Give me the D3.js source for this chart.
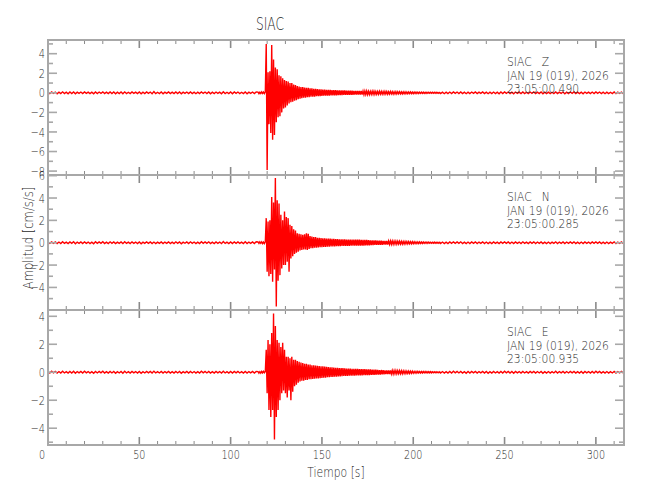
<!DOCTYPE html>
<html><head><meta charset="utf-8">
<script src="https://cdn.jsdelivr.net/npm/d3@7"></script>
<style>
body{margin:0;background:#fff}
svg{display:block}
text{font-family:"DejaVu Sans",sans-serif;font-weight:300;fill:#2a2a2a}
</style>
</head><body>
<svg id="chart" width="650" height="500"></svg>
<script>
// ---------------- data ----------------
const chartTitle = "SIAC";
const stationName = "SIAC";
const components = ["Z", "N", "E"];
const dateText = "JAN 19 (019), 2026";
const startTimes = ["23:05:00.490", "23:05:00.285", "23:05:00.935"];
const xTickLabels = [0, 50, 100, 150, 200, 250, 300];
const timeMax = 315.4;
const yDomainZ = [-8.4, 5.4];
const yDomainN = [-6.02, 6.06];
const yDomainE = [-5.2, 4.45];
const yLabelsZ = [-8, -6, -4, -2, 0, 2, 4];
const yLabelsN = [-4, -2, 0, 2, 4, 6];
const yLabelsE = [-4, -2, 0, 2, 4];
const yAxisTitle = "Amplitud [cm/s/s]";
const xAxisTitle = "Tiempo [s]";

// sampling of the read-off trace segments (seconds): [start, step]
const preSeg = [0, 1];       // 0 .. 114 s
const eventSeg = [115, 0.5]; // 115 .. 174.5 s
const codaSeg = [175, 0.5];  // 175 .. 214.5 s
const postSeg = [215, 1];    // 215 .. 315 s

// Z component (cm/s/s)
const zPre = [
0.08,-0.07,0.09,-0.06,0.08,-0.09,0.07,-0.08,0.1,-0.07,
0.06,-0.09,0.08,-0.07,0.09,-0.1,0.07,-0.06,0.08,-0.08,
0.09,-0.06,0.07,-0.08,0.06,-0.1,0.09,-0.07,0.08,-0.06,
0.1,-0.08,0.06,-0.08,0.09,-0.07,0.08,-0.09,0.06,-0.07,
0.08,-0.09,0.1,-0.07,0.06,-0.08,0.09,-0.06,0.07,-0.08,
0.08,-0.1,0.06,-0.07,0.09,-0.06,0.08,-0.09,0.12,-0.08,
0.06,-0.07,0.08,-0.09,0.07,-0.06,0.09,-0.08,0.06,-0.08,
0.09,-0.07,0.08,-0.1,0.06,-0.06,0.08,-0.08,0.09,-0.07,
0.07,-0.09,0.06,-0.08,0.1,-0.06,0.08,-0.07,0.09,-0.09,
0.06,-0.08,0.08,-0.06,0.07,-0.09,0.11,-0.07,0.06,-0.08,
0.08,-0.09,0.09,-0.06,0.08,-0.07,0.06,-0.08,0.09,-0.09,
0.07,-0.06,0.08,-0.08,0.09];
const zEvent = [
0.07,-0.08,0.06,-0.07,0.09,-0.06,0.08,-0.07,0.1,5.0,
-7.9,2.1,-3.2,2.2,-4.1,4.9,-4.8,3.4,-4.3,2.6,
-3.0,2.4,-2.5,1.8,-2.4,1.7,-2.0,1.5,-1.6,1.3,
-1.5,1.2,-1.3,1.15,-1.1,1.0,-0.95,1.0,-0.9,0.85,
-0.8,0.8,-0.75,0.7,-0.65,0.65,-0.6,0.6,-0.55,0.6,
-0.5,0.55,-0.5,0.5,-0.45,0.5,-0.45,0.45,-0.4,0.45,
-0.4,0.4,-0.38,0.4,-0.35,0.38,-0.35,0.35,-0.33,0.35,
-0.32,0.33,-0.3,0.32,-0.3,0.3,-0.28,0.3,-0.28,0.3,
-0.27,0.28,-0.26,0.27,-0.25,0.28,-0.25,0.26,-0.24,0.25,
-0.24,0.25,-0.23,0.24,-0.22,0.24,-0.22,0.23,-0.21,0.22,
-0.21,0.22,-0.2,0.21,-0.2,0.2,-0.19,0.2,-0.19,0.19,
-0.19,0.19,-0.18,0.19,-0.18,0.18,-0.18,0.18,-0.17,0.18];
const zCoda = [
-0.17,0.16,-0.17,0.15,-0.16,0.16,-0.15,0.16,-0.15,0.14,
-0.15,0.14,-0.14,0.15,-0.13,0.14,-0.14,0.13,-0.13,0.14,
-0.12,0.13,-0.13,0.12,-0.12,0.13,-0.11,0.12,-0.12,0.11,
-0.11,0.12,-0.11,0.11,-0.1,0.11,-0.1,0.1,-0.1,0.1,
-0.09,0.1,-0.09,0.09,-0.09,0.09,-0.08,0.09,-0.08,0.08,
-0.08,0.08,-0.07,0.08,-0.07,0.07,-0.07,0.07,-0.06,0.07,
-0.06,0.06,-0.06,0.06,-0.05,0.06,-0.05,0.05,-0.05,0.05,
-0.05,0.05,-0.04,0.05,-0.04,0.05,-0.04,0.04,-0.04,0.04];
const zPost = [
-0.08,0.07,-0.09,0.06,-0.08,0.08,-0.07,0.09,-0.06,0.08,
-0.07,0.09,-0.08,0.06,-0.09,0.07,-0.08,0.08,-0.06,0.09,
-0.08,0.07,-0.06,0.09,-0.08,0.07,-0.09,0.06,-0.08,0.08,
-0.07,0.06,-0.09,0.08,-0.07,0.09,-0.06,0.08,-0.08,0.07,
-0.09,0.08,-0.06,0.07,-0.08,0.09,-0.07,0.06,-0.08,0.08,
-0.06,0.09,-0.08,0.07,-0.07,0.08,-0.09,0.06,-0.08,0.07,
-0.08,0.06,-0.07,0.09,-0.08,0.07,-0.06,0.08,-0.09,0.07,
-0.07,0.08,-0.06,0.09,-0.08,0.06,-0.08,0.07,-0.09,0.08,
-0.06,0.07,-0.08,0.08,-0.07,0.09,-0.06,0.08,-0.08,0.06,
-0.09,0.07,-0.08,0.06,-0.07,0.09,-0.08,0.07,-0.06,0.08,
-0.08];

// N component
const nPre = [
0.07,-0.06,0.08,-0.05,0.07,-0.08,0.06,-0.07,0.09,-0.06,
0.05,-0.08,0.07,-0.06,0.08,-0.09,0.06,-0.05,0.07,-0.07,
0.08,-0.05,0.06,-0.07,0.05,-0.09,0.08,-0.06,0.07,-0.05,
0.09,-0.07,0.05,-0.07,0.08,-0.06,0.07,-0.08,0.05,-0.06,
0.07,-0.08,0.09,-0.06,0.05,-0.07,0.08,-0.05,0.06,-0.07,
0.07,-0.09,0.05,-0.06,0.08,-0.05,0.07,-0.08,0.06,-0.07,
0.05,-0.06,0.07,-0.08,0.06,-0.05,0.08,-0.07,0.05,-0.07,
0.08,-0.06,0.07,-0.09,0.05,-0.05,0.07,-0.07,0.08,-0.06,
0.06,-0.08,0.05,-0.07,0.09,-0.05,0.07,-0.06,0.08,-0.08,
0.05,-0.07,0.07,-0.05,0.06,-0.08,0.1,-0.06,0.05,-0.07,
0.07,-0.08,0.08,-0.05,0.07,-0.06,0.05,-0.07,0.08,-0.08,
0.06,-0.05,0.07,-0.07,0.08];
const nEvent = [
0.07,-0.06,0.08,-0.05,0.07,-0.08,0.06,-0.07,0.08,2.2,
-2.6,1.9,-3.0,2.0,-2.8,4.1,-3.5,3.6,-2.4,5.8,
-5.7,3.8,-3.4,3.5,-2.9,2.5,-2.3,2.0,-2.0,2.8,
-2.0,2.3,-1.7,2.2,-2.6,1.6,-1.4,1.5,-1.2,1.2,
-1.0,1.1,-0.9,0.85,-0.8,0.8,-0.7,0.75,-0.65,0.7,
-0.6,0.75,-0.6,0.85,-0.65,0.8,-0.55,0.6,-0.5,0.55,
-0.5,0.5,-0.45,0.5,-0.45,0.45,-0.42,0.45,-0.4,0.42,
-0.4,0.4,-0.38,0.4,-0.37,0.38,-0.36,0.37,-0.35,0.36,
-0.34,0.35,-0.33,0.34,-0.32,0.33,-0.31,0.32,-0.3,0.31,
-0.3,0.31,-0.29,0.3,-0.29,0.3,-0.28,0.29,-0.28,0.29,
-0.28,0.28,-0.27,0.28,-0.27,0.28,-0.26,0.27,-0.26,0.27,
-0.26,0.27,-0.25,0.26,-0.25,0.26,-0.25,0.25,-0.24,0.25];
const nCoda = [
-0.24,0.23,-0.23,0.22,-0.22,0.22,-0.21,0.21,-0.2,0.21,
-0.2,0.19,-0.19,0.19,-0.18,0.18,-0.18,0.17,-0.17,0.17,
-0.16,0.17,-0.16,0.15,-0.15,0.16,-0.14,0.15,-0.14,0.14,
-0.13,0.14,-0.13,0.13,-0.12,0.13,-0.12,0.12,-0.12,0.11,
-0.11,0.11,-0.1,0.1,-0.1,0.1,-0.09,0.09,-0.09,0.09,
-0.08,0.08,-0.08,0.07,-0.07,0.07,-0.07,0.07,-0.06,0.06,
-0.06,0.06,-0.06,0.05,-0.05,0.05,-0.05,0.05,-0.05,0.04,
-0.05,0.04,-0.04,0.05,-0.04,0.04,-0.04,0.04,-0.04,0.04];
const nPost = [
-0.07,0.06,-0.08,0.05,-0.07,0.07,-0.06,0.08,-0.05,0.07,
-0.06,0.08,-0.07,0.05,-0.08,0.06,-0.07,0.07,-0.05,0.08,
-0.07,0.06,-0.05,0.08,-0.07,0.06,-0.08,0.05,-0.07,0.07,
-0.06,0.05,-0.08,0.07,-0.06,0.08,-0.05,0.07,-0.07,0.06,
-0.08,0.07,-0.05,0.06,-0.07,0.08,-0.06,0.05,-0.07,0.07,
-0.05,0.08,-0.07,0.06,-0.06,0.07,-0.08,0.05,-0.07,0.06,
-0.07,0.05,-0.06,0.08,-0.07,0.06,-0.05,0.07,-0.08,0.06,
-0.06,0.07,-0.05,0.08,-0.07,0.05,-0.07,0.06,-0.08,0.07,
-0.05,0.06,-0.07,0.07,-0.06,0.08,-0.05,0.07,-0.07,0.05,
-0.08,0.06,-0.07,0.05,-0.06,0.08,-0.07,0.06,-0.05,0.07,
-0.07];

// E component
const ePre = [
0.06,-0.05,0.07,-0.04,0.06,-0.06,0.05,-0.06,0.07,-0.05,
0.04,-0.06,0.06,-0.05,0.07,-0.07,0.05,-0.04,0.06,-0.06,
0.07,-0.04,0.05,-0.06,0.04,-0.07,0.06,-0.05,0.06,-0.04,
0.07,-0.06,0.04,-0.06,0.06,-0.05,0.06,-0.07,0.04,-0.05,
0.06,-0.07,0.07,-0.05,0.04,-0.06,0.06,-0.04,0.05,-0.06,
0.06,-0.07,0.04,-0.05,0.06,-0.04,0.06,-0.06,0.08,-0.05,
0.04,-0.05,0.06,-0.06,0.05,-0.04,0.06,-0.06,0.04,-0.06,
0.06,-0.05,0.06,-0.07,0.04,-0.04,0.06,-0.06,0.06,-0.05,
0.05,-0.06,0.04,-0.06,0.07,-0.04,0.06,-0.05,0.06,-0.06,
0.04,-0.06,0.06,-0.04,0.05,-0.06,0.07,-0.05,0.04,-0.06,
0.06,-0.06,0.06,-0.04,0.06,-0.05,0.04,-0.06,0.06,-0.06,
0.05,-0.04,0.06,-0.06,0.06];
const eEvent = [
0.05,-0.06,0.04,-0.06,0.06,-0.05,0.06,-0.04,0.06,1.6,
-1.5,2.3,-2.7,2.0,-3.2,2.8,-2.7,4.2,-4.8,3.3,
-3.2,2.3,-2.7,2.1,-2.0,1.8,-1.5,2.1,-1.3,1.6,
-1.5,1.1,-1.8,1.1,-1.3,1.0,-2.0,1.1,-1.4,0.9,
-1.0,0.9,-0.9,0.8,-0.75,0.75,-0.65,0.7,-0.6,0.65,
-0.6,0.6,-0.55,0.6,-0.55,0.55,-0.5,0.55,-0.5,0.5,
-0.48,0.5,-0.46,0.48,-0.45,0.46,-0.44,0.45,-0.42,0.43,
-0.4,0.42,-0.39,0.4,-0.38,0.39,-0.36,0.37,-0.35,0.36,
-0.34,0.35,-0.33,0.33,-0.32,0.32,-0.31,0.31,-0.3,0.3,
-0.29,0.3,-0.28,0.29,-0.27,0.28,-0.27,0.27,-0.26,0.27,
-0.25,0.26,-0.25,0.25,-0.24,0.25,-0.24,0.24,-0.23,0.24,
-0.23,0.23,-0.22,0.23,-0.22,0.22,-0.21,0.22,-0.21,0.21];
const eCoda = [
-0.21,0.2,-0.2,0.2,-0.19,0.19,-0.19,0.18,-0.18,0.18,
-0.17,0.17,-0.17,0.16,-0.16,0.16,-0.15,0.15,-0.15,0.14,
-0.14,0.14,-0.13,0.14,-0.13,0.13,-0.12,0.13,-0.12,0.12,
-0.11,0.12,-0.11,0.11,-0.1,0.11,-0.1,0.1,-0.1,0.1,
-0.09,0.09,-0.09,0.08,-0.08,0.08,-0.08,0.07,-0.07,0.07,
-0.07,0.06,-0.06,0.06,-0.06,0.06,-0.05,0.05,-0.05,0.05,
-0.05,0.05,-0.04,0.05,-0.04,0.04,-0.04,0.04,-0.04,0.04,
-0.04,0.04,-0.03,0.04,-0.03,0.04,-0.03,0.03,-0.03,0.03];
const ePost = [
-0.06,0.05,-0.06,0.04,-0.06,0.06,-0.05,0.07,-0.04,0.06,
-0.05,0.06,-0.06,0.04,-0.07,0.05,-0.06,0.06,-0.04,0.06,
-0.06,0.05,-0.04,0.06,-0.06,0.05,-0.07,0.04,-0.06,0.06,
-0.05,0.04,-0.06,0.06,-0.05,0.07,-0.04,0.06,-0.06,0.05,
-0.07,0.06,-0.04,0.05,-0.06,0.06,-0.05,0.04,-0.06,0.06,
-0.04,0.06,-0.06,0.05,-0.05,0.06,-0.07,0.04,-0.06,0.05,
-0.06,0.04,-0.05,0.07,-0.06,0.05,-0.04,0.06,-0.06,0.05,
-0.05,0.06,-0.04,0.06,-0.06,0.04,-0.06,0.05,-0.07,0.06,
-0.04,0.05,-0.06,0.06,-0.05,0.07,-0.04,0.06,-0.06,0.04,
-0.06,0.05,-0.06,0.04,-0.05,0.06,-0.06,0.05,-0.04,0.06,
-0.06];

// ---------------- build ----------------
function buildTrace(segments) {
  const out = [];
  segments.forEach(([seg, vals]) => {
    vals.forEach((v, i) => out.push({t: seg[0] + i * seg[1], v}));
  });
  return out;
}
const panels = [
  {comp: components[0], time: startTimes[0], domain: yDomainZ, labels: yLabelsZ,
   data: buildTrace([[preSeg, zPre], [eventSeg, zEvent], [codaSeg, zCoda], [postSeg, zPost]])},
  {comp: components[1], time: startTimes[1], domain: yDomainN, labels: yLabelsN,
   data: buildTrace([[preSeg, nPre], [eventSeg, nEvent], [codaSeg, nCoda], [postSeg, nPost]])},
  {comp: components[2], time: startTimes[2], domain: yDomainE, labels: yLabelsE,
   data: buildTrace([[preSeg, ePre], [eventSeg, eEvent], [codaSeg, eCoda], [postSeg, ePost]])}
];

const svg = d3.select("#chart");
const left = 48, right = 624, top0 = 40, panelH = 135;
const x = d3.scaleLinear().domain([0, timeMax]).range([left, right]);
const frameColor = "#a8a8a8", tickColor = "#8a8a8a";

// narrow text helper (the original uses a narrow stroke font)
function label(parent, px, py, str, size, anchor, sx, rot) {
  const g = parent.append("g")
    .attr("transform", `translate(${px},${py})` + (rot ? ` rotate(${rot})` : "") + ` scale(${sx},1)`);
  return g.append("text").attr("x", 0).attr("y", 0).attr("text-anchor", anchor)
    .style("font-size", size + "px").style("white-space", "pre").text(str);
}

label(svg, 270, 30, chartTitle, 18, "middle", 0.68);

const xMinor = d3.range(0, timeMax, 10);

panels.forEach((p, k) => {
  const y0 = top0 + k * panelH, y1 = y0 + panelH;
  const y = d3.scaleLinear().domain(p.domain).range([y1, y0]);
  const g = svg.append("g");

  g.append("clipPath").attr("id", "clip" + k).append("rect")
    .attr("x", left).attr("y", y0).attr("width", right - left).attr("height", panelH);

  // trace
  const line = d3.line().x(d => x(d.t)).y(d => y(d.v));
  g.append("path").datum(p.data).attr("d", line)
    .attr("clip-path", "url(#clip" + k + ")")
    .attr("fill", "none").attr("stroke", "#ff0000").attr("stroke-width", 1.4);

  // x ticks top and bottom (inward)
  xMinor.forEach(t => {
    const major = t % 50 === 0;
    const len = major ? 8 : 4;
    g.append("line").attr("x1", x(t)).attr("x2", x(t)).attr("y1", y0).attr("y2", y0 + len)
      .attr("stroke", tickColor).attr("stroke-width", major ? 1.6 : 1);
    g.append("line").attr("x1", x(t)).attr("x2", x(t)).attr("y1", y1).attr("y2", y1 - len)
      .attr("stroke", tickColor).attr("stroke-width", major ? 1.6 : 1);
  });

  // y ticks left and right (inward)
  const yMinor = d3.range(Math.ceil(p.domain[0]), Math.floor(p.domain[1]) + 1);
  yMinor.forEach(v => {
    const major = p.labels.includes(v);
    const len = major ? 9 : 5;
    g.append("line").attr("x1", left).attr("x2", left + len).attr("y1", y(v)).attr("y2", y(v))
      .attr("stroke", frameColor).attr("stroke-width", 1.6);
    g.append("line").attr("x1", right).attr("x2", right - len).attr("y1", y(v)).attr("y2", y(v))
      .attr("stroke", frameColor).attr("stroke-width", 1.6);
  });
  p.labels.forEach(v => {
    label(g, left - 3, y(v) + 4.6, v < 0 ? "\u2212" + Math.abs(v) : String(v), 13, "end", 0.75);
  });

  // frame
  g.append("rect").attr("x", left).attr("y", y0).attr("width", right - left).attr("height", panelH)
    .attr("fill", "none").attr("stroke", frameColor).attr("stroke-width", 2);

  // annotation (three lines)
  [stationName + "   " + p.comp, dateText, p.time].forEach((s, j) => {
    label(g, 507, y0 + 26 + j * 13.7, s, 12.5, "start", 0.86);
  });
});

// x tick labels
const bottom = top0 + 3 * panelH;
xTickLabels.forEach((t, i) => {
  label(svg, x(t) - (i === 0 ? 6 : 0), bottom + 14, String(t), 13, "middle", 0.74);
});

label(svg, 336, 477, xAxisTitle, 13.5, "middle", 0.8);
label(svg, 33, 238, yAxisTitle, 13.5, "middle", 0.86, -90);
</script>
</body></html>
